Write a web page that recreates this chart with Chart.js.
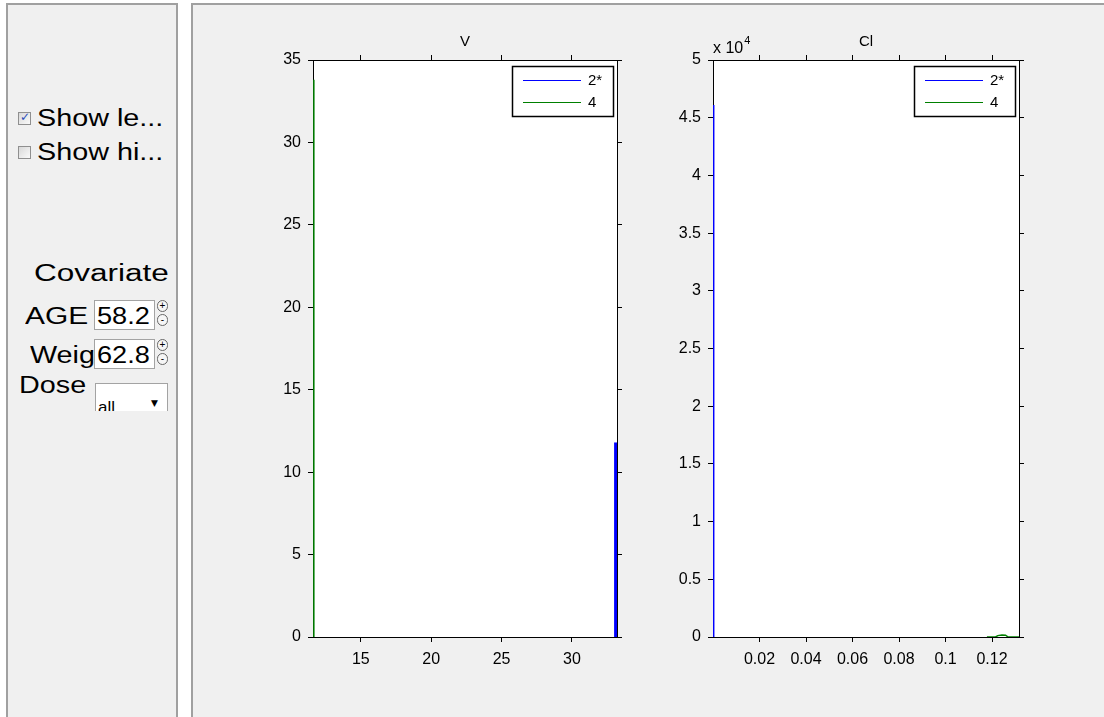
<!DOCTYPE html>
<html>
<head>
<meta charset="utf-8">
<title>V / Cl</title>
<script src="https://cdn.jsdelivr.net/npm/chart.js@4.4.1/dist/chart.umd.min.js"></script>
<style>
  html, body { margin: 0; padding: 0; background: #fff; overflow: hidden; }
  body { width: 1104px; height: 717px; position: relative; font-family: "Liberation Sans", Arial, sans-serif; }
  .panel { position: absolute; background: #f0f0f0; border: 2px solid #a0a0a0; box-sizing: border-box; }
  #side { left: 6px; top: 3px; width: 172px; height: 740px; }
  #main { left: 191px; top: 3px; width: 940px; height: 740px; }
  #controls { position: absolute; left: 0; top: 0; width: 180px; height: 411px; overflow: hidden; }
  .txt { position: absolute; font-size: 23px; line-height: 24px; color: #000; white-space: nowrap;
         transform-origin: 0 50%; transform: scaleX(1.25); }
  .chk { position: absolute; width: 11px; height: 11px; border: 1px solid #8f8f8f;
         background: linear-gradient(135deg, #d8d8d8, #fafafa); }
  .chk span { position: absolute; left: 1px; top: -3px; font-size: 12px; color: #2b4db8; font-family: "DejaVu Sans"; }
  .box { position: absolute; background: #fff; border: 1px solid #a3a3a3; box-sizing: border-box; overflow: hidden; }
  .spin { position: absolute; width: 11px; height: 12px; border: 1px solid #666; border-radius: 6px;
          box-sizing: border-box; font-size: 10px; line-height: 10px; text-align: center; color: #000; background: #f6f6f6; }
  canvas { position: absolute; }
</style>
</head>
<body>
<div class="panel" id="side"></div>
<div class="panel" id="main"></div>

<div id="controls">
  <div class="chk" style="left:18px; top:112px;"><span>&#10003;</span></div>
  <div class="txt" style="left:37px; top:106px;">Show le...</div>
  <div class="chk" style="left:18px; top:146px;"></div>
  <div class="txt" style="left:37px; top:140px;">Show hi...</div>

  <div class="txt" style="left:34px; top:261px; transform: scaleX(1.37);">Covariate</div>

  <div class="txt" style="left:25px; top:304px; transform: scaleX(1.3);">AGE</div>
  <div class="box" style="left:94px; top:300px; width:61px; height:30px;">
    <div class="txt" style="left:2px; top:3px; transform: scaleX(1.18);">58.2</div>
  </div>
  <div class="spin" style="left:157px; top:300px;">+</div>
  <div class="spin" style="left:157px; top:314px;">-</div>

  <div class="txt" style="left:30px; top:343px;">Weig</div>
  <div class="box" style="left:94px; top:339px; width:61px; height:30px;">
    <div class="txt" style="left:2px; top:3px; transform: scaleX(1.18);">62.8</div>
  </div>
  <div class="spin" style="left:157px; top:339px;">+</div>
  <div class="spin" style="left:157px; top:353px;">-</div>

  <div class="txt" style="left:19px; top:373px;">Dose</div>
  <div class="box" style="left:95px; top:383px; width:73px; height:34px;">
    <div style="position:absolute; left:2px; top:14px; font-size:17px;">all</div>
    <div style="position:absolute; left:55px; top:14px; font-size:9px; font-family:'DejaVu Sans';">&#9660;</div>
  </div>
</div>

<canvas id="chartV" width="384" height="657" style="left:253px; top:20px;"></canvas>
<canvas id="chartCl" width="386" height="657" style="left:653px; top:20px;"></canvas>

<script>
// tick values and labels
const vTicksX = [15, 20, 25, 30];
const vLabelsX = ['15', '20', '25', '30'];
const vTicksY = [0, 5, 10, 15, 20, 25, 30, 35];
const vLabelsY = ['0', '5', '10', '15', '20', '25', '30', '35'];

const clTicksX = [0.02, 0.04, 0.06, 0.08, 0.1, 0.12];
const clLabelsX = ['0.02', '0.04', '0.06', '0.08', '0.1', '0.12'];
const clTicksY = [0, 5000, 10000, 15000, 20000, 25000, 30000, 35000, 40000, 45000, 50000];
const clLabelsY = ['0', '0.5', '1', '1.5', '2', '2.5', '3', '3.5', '4', '4.5', '5'];

const seriesNames = ['2*', '4'];
const seriesColors = ['#0000ff', '#008000'];

// density curves per sample group
const vSeries2 = [{ x: 33.1, y: 0 }, { x: 33.1, y: 11.8 }];
const vSeries4 = [{ x: 11.66, y: 0 }, { x: 11.66, y: 33.8 }];
const clSeries2 = [{ x: 0.0003, y: 0 }, { x: 0.0003, y: 46100 }];
const clSeries4 = [
  { x: 0.1178, y: 0 }, { x: 0.1215, y: 0 }, { x: 0.1225, y: 120 }, { x: 0.1243, y: 180 },
  { x: 0.1258, y: 160 }, { x: 0.1268, y: 20 }, { x: 0.1316, y: 0 }
];

const FONT = 'Liberation Sans, Arial, sans-serif';

function axis(position, min, max, ticks, labels, showLabels, size) {
  return {
    type: 'linear',
    position: position,
    min: min,
    max: max,
    afterBuildTicks: function(scale) {
      scale.ticks = ticks.map(v => ({ value: v }));
    },
    afterFit: function(scale) {
      if (scale.isHorizontal()) scale.height = size;
      else scale.width = size;
    },
    border: { display: true, color: '#000', width: 1 },
    grid: {
      display: true,
      drawOnChartArea: false,
      drawTicks: true,
      tickLength: 5,
      color: '#000',
      lineWidth: 1
    },
    ticks: {
      display: showLabels,
      color: '#000',
      font: { family: FONT, size: 16 },
      padding: position === 'bottom' ? 8 : 7,
      maxRotation: 0,
      autoSkip: false,
      callback: (v, i) => labels[i]
    }
  };
}

// white plot area, title, exponent and boxed legend
const panelDecor = {
  id: 'panelDecor',
  beforeDraw(chart) {
    const a = chart.chartArea;
    chart.ctx.save();
    chart.ctx.fillStyle = '#fff';
    chart.ctx.fillRect(a.left, a.top, a.right - a.left, a.bottom - a.top);
    chart.ctx.restore();
  },
  afterDraw(chart, args, opts) {
    const ctx = chart.ctx;
    const a = chart.chartArea;
    ctx.save();
    ctx.fillStyle = '#000';
    ctx.font = '15px ' + FONT;
    ctx.textAlign = 'center';
    ctx.textBaseline = 'alphabetic';
    ctx.fillText(opts.title, (a.left + a.right) / 2, a.top - 14);

    if (opts.exponent) {
      ctx.textAlign = 'left';
      ctx.font = '16px ' + FONT;
      ctx.fillText('x 10', a.left, a.top - 7);
      const w10 = ctx.measureText('x 10').width;
      ctx.font = '11px ' + FONT;
      ctx.fillText(opts.exponent, a.left + w10 + 1, a.top - 16);
    }

    // legend box
    const w = 101, h = 50;
    const x0 = Math.round(a.right - 105), y0 = Math.round(a.top + 6);
    ctx.fillStyle = '#fff';
    ctx.fillRect(x0, y0, w, h);
    ctx.strokeStyle = '#000';
    ctx.lineWidth = 1.5;
    ctx.strokeRect(x0 + 0.5, y0 + 0.5, w, h);
    ctx.font = '15px ' + FONT;
    ctx.textAlign = 'left';
    ctx.textBaseline = 'middle';
    chart.data.datasets.forEach((ds, i) => {
      const y = y0 + 14 + i * 22;
      ctx.strokeStyle = ds.borderColor;
      ctx.lineWidth = 1;
      ctx.beginPath();
      ctx.moveTo(x0 + 11, y + 0.5);
      ctx.lineTo(x0 + 69, y + 0.5);
      ctx.stroke();
      ctx.fillStyle = '#000';
      ctx.fillText(ds.label, x0 + 76, y + 1);
    });
    ctx.restore();
  }
};

function makeChart(id, title, exponent, xr, yr, xTicks, xLabels, yTicks, yLabels, series, widths) {
  return new Chart(document.getElementById(id).getContext('2d'), {
    type: 'line',
    data: {
      datasets: series.map((pts, i) => ({
        label: seriesNames[i],
        data: pts,
        borderColor: seriesColors[i],
        backgroundColor: seriesColors[i],
        borderWidth: widths[i],
        pointRadius: 0,
        tension: 0,
        fill: false,
        clip: 0
      }))
    },
    options: {
      responsive: false,
      animation: false,
      events: [],
      layout: { padding: 0 },
      plugins: {
        legend: { display: false },
        tooltip: { enabled: false },
        panelDecor: { title: title, exponent: exponent }
      },
      scales: {
        x: axis('bottom', xr[0], xr[1], xTicks, xLabels, true, 40),
        x2: axis('top', xr[0], xr[1], xTicks, xLabels, false, 40),
        y: axis('left', yr[0], yr[1], yTicks, yLabels, true, 60),
        y2: axis('right', yr[0], yr[1], yTicks, yLabels, false, 20)
      }
    },
    plugins: [panelDecor]
  });
}

makeChart('chartV', 'V', null, [11.6, 33.2], [0, 35],
  vTicksX, vLabelsX, vTicksY, vLabelsY, [vSeries2, vSeries4], [3, 1.5]);

makeChart('chartCl', 'Cl', '4', [0, 0.1316], [0, 50000],
  clTicksX, clLabelsX, clTicksY, clLabelsY, [clSeries2, clSeries4], [1.5, 1.5]);
</script>
</body>
</html>
